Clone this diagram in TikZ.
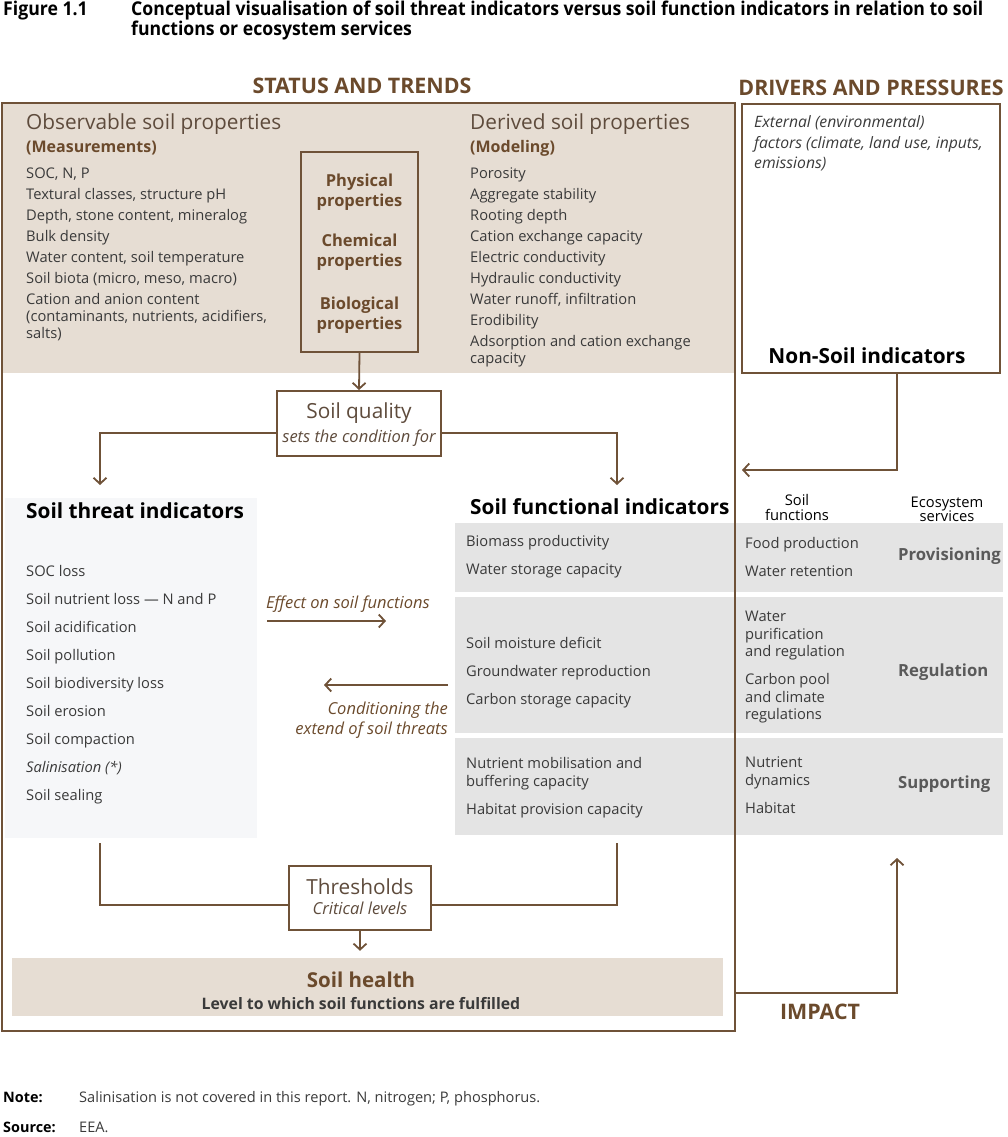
\documentclass[tikz,border=0pt]{standalone}
\usepackage{fontspec}
\setmainfont{Open Sans}
\newfontfamily\condfont{Open Sans}[FakeStretch=0.93]
\usetikzlibrary{arrows.meta,calc}
\definecolor{brn}{HTML}{6F5238}
\definecolor{brtxt}{HTML}{6B4A2C}
\definecolor{beige}{HTML}{E6DDD3}
\definecolor{gry}{HTML}{E4E4E4}
\definecolor{pale}{HTML}{F6F7F9}
\definecolor{txt}{HTML}{3A3A3A}
\definecolor{hd}{HTML}{5E4B3C}
\definecolor{gtxt}{HTML}{5A5A5A}
\newcommand{\fs}[1]{\fontsize{#1}{#1}\selectfont}
\begin{document}
\begin{tikzpicture}[x=1pt,y=-1pt,
  lst/.style={anchor=base west, inner sep=0pt, text=txt, font=\fs{14.7}},
  ctr/.style={anchor=base, inner sep=0pt},
  box/.style={draw=brn, line width=2pt, inner sep=0pt},
  arr/.style={draw=brn, line width=1.8pt, -{Straight Barb[length=6pt,width=13pt,line width=1.8pt]}},
  ln/.style={draw=brn, line width=1.8pt},
  bhead/.style={anchor=base, inner sep=0pt, text=brtxt, font=\bfseries\fs{21.4}},
  ital/.style={inner sep=0pt, font=\itshape\fs{16.5}, text=brtxt},
  ]
\useasboundingbox (0,0) rectangle (1007,1137);
% title
\node[anchor=base west, inner sep=0pt, text=black, font=\condfont\bfseries\fs{19}] (fig) at (3,16) {Figure 1.1};
\node[anchor=base west, inner sep=0pt, text=black, font=\condfont\bfseries\fs{19}] (ttl1) at (131,16) {Conceptual visualisation of soil threat indicators versus soil function indicators in relation to soil};
\node[anchor=base west, inner sep=0pt, text=black, font=\condfont\bfseries\fs{19}] (ttl2) at (131,36) {functions or ecosystem services};
% section headers
\node[bhead] (status) at (362,94) {STATUS AND TRENDS};
\node[bhead] (drivers) at (871,96) {DRIVERS AND PRESSURES};
% background fills
\fill[beige] (2,103) rectangle (735,373);
\fill[pale] (5,498) rectangle (257,838);
\fill[gry] (455,523) rectangle (1003,592);
\fill[gry] (455,597) rectangle (1003,733);
\fill[gry] (455,738) rectangle (1003,835);
% main frame
\draw[brn, line width=2pt] (2,103) rectangle (735,1031);
% observable
\node[anchor=base west, inner sep=0pt, text=hd, font=\fs{20.8}] (obsh) at (26,130) {Observable soil properties};
\node[anchor=base west, inner sep=0pt, text=brtxt, font=\bfseries\fs{16}] (obsm) at (26,152) {(Measurements)};
\foreach \t [count=\i] in {{SOC, N, P},{Textural classes, structure pH},{Depth, stone content, mineralog},{Bulk density},{Water content, soil temperature},{Soil biota (micro, meso, macro)},{Cation and anion content}}
  \node[lst] (obs\i) at (26,157+21*\i) {\t};
\node[lst] (obs8) at (26,321) {(contaminants, nutrients, acidifiers,};
\node[lst] (obs9) at (26,338) {salts)};
% derived
\node[anchor=base west, inner sep=0pt, text=hd, font=\fs{20.8}] (derh) at (470,130) {Derived soil properties};
\node[anchor=base west, inner sep=0pt, text=brtxt, font=\bfseries\fs{16}] (derm) at (470,152) {(Modeling)};
\foreach \t [count=\i] in {Porosity,Aggregate stability,Rooting depth,Cation exchange capacity,Electric conductivity,Hydraulic conductivity,{Water runoff, infiltration},Erodibility,Adsorption and cation exchange}
  \node[lst] (der\i) at (470,157+21*\i) {\t};
\node[lst] (der10) at (470,363) {capacity};
% properties box
\node[box, minimum width=117pt, minimum height=200pt] (phys) at (359.5,252) {};
\foreach \t/\y [count=\i] in {Physical/186,properties/206,Chemical/246,properties/266,Biological/309,properties/329}
  \node[ctr, text=brtxt, font=\bfseries\fs{16.5}] (pp\i) at (359.5,\y) {\t};
% drivers box
\node[box, minimum width=258pt, minimum height=269pt] (drv) at (871,238.5) {};
\foreach \t/\y [count=\i] in {External (environmental)/128,{factors (climate, land use, inputs,}/148,emissions)/168}
  \node[lst, font=\itshape\fs{15.7}, text=txt] (ext\i) at (754,\y) {\t};
\node[ctr, text=black, font=\bfseries\fs{20.8}] (nonsoil) at (867,363) {Non-Soil indicators};
% soil quality
\node[box, minimum width=164pt, minimum height=65pt, fill=white] (sq) at (359,423.5) {};
\node[ctr, text=hd, font=\fs{20.8}] (sqt) at (359,418) {Soil quality};
\node[ctr, ital, text=hd] (sqs) at (359,442) {sets the condition for};
\draw[arr] (phys.south) -- (sq.north);
\coordinate (tin) at (100,485);
\coordinate (fin) at (617,485);
\draw[arr] ($(sq.west)+(0,9.5)$) -| (tin);
\draw[arr] ($(sq.east)+(0,9.5)$) -| (fin);
\coordinate (nsin) at (742,470);
\draw[arr] ($(drv.south)+(26,0)$) |- (nsin);
% threat indicators
\node[anchor=base west, inner sep=0pt, text=black, font=\bfseries\fs{20.8}] (thh) at (26,518) {Soil threat indicators};
\foreach \t [count=\i] in {SOC loss,Soil nutrient loss --- N and P,Soil acidification,Soil pollution,Soil biodiversity loss,Soil erosion,Soil compaction,{\itshape Salinisation (*)},Soil sealing}
  \node[lst] (thr\i) at (26,548+28*\i) {\t};
% middle arrows
\node[ital, anchor=base west] (eff) at (266,608) {Effect on soil functions};
\coordinate (ea) at (267,621);
\coordinate (eb) at (386,621);
\draw[arr] (ea) -- (eb);
\coordinate (ca) at (448,685);
\coordinate (cb) at (324,685);
\draw[arr] (ca) -- (cb);
\node[ital, anchor=base east] (cond1) at (448,714) {Conditioning the};
\node[ital, anchor=base east] (cond2) at (448,734) {extend of soil threats};
% functional indicators
\node[anchor=base west, inner sep=0pt, text=black, font=\bfseries\fs{20.8}] (fuh) at (470,514) {Soil functional indicators};
\node[ctr, text=black, font=\fs{14.7}] (sfh1) at (797,505) {Soil};
\node[ctr, text=black, font=\fs{14.7}] (sfh2) at (797,520) {functions};
\node[ctr, text=black, font=\fs{14.7}] (esh1) at (947,507) {Ecosystem};
\node[ctr, text=black, font=\fs{14.7}] (esh2) at (947,521) {services};
\foreach \t/\y [count=\i] in {Biomass productivity/546,Water storage capacity/574,Soil moisture deficit/648,Groundwater reproduction/676,Carbon storage capacity/704,Nutrient mobilisation and/768,buffering capacity/786,Habitat provision capacity/814}
  \node[lst] (fi\i) at (466,\y) {\t};
\foreach \t/\y [count=\i] in {Food production/548,Water retention/576,Water/621,purification/639,and regulation/656,Carbon pool/684,and climate/702,regulations/719,Nutrient/767,dynamics/785,Habitat/813}
  \node[lst] (sf\i) at (745,\y) {\t};
\node[anchor=base west, inner sep=0pt, text=gtxt, font=\bfseries\fs{16.7}] (prov) at (898,560) {Provisioning};
\node[anchor=base west, inner sep=0pt, text=gtxt, font=\bfseries\fs{16.7}] (reg) at (898,676) {Regulation};
\node[anchor=base west, inner sep=0pt, text=gtxt, font=\bfseries\fs{16.7}] (sup) at (898,788) {Supporting};
% thresholds
\node[box, minimum width=142pt, minimum height=64pt, fill=white] (th) at (360,898) {};
\node[ctr, text=hd, font=\fs{20.8}] (tht) at (360,894) {Thresholds};
\node[ctr, ital, text=hd] (ths) at (360,914) {Critical levels};
\coordinate (tl) at (100,843);
\coordinate (tr) at (617,843);
\draw[ln] (tl) |- ($(th.west)+(0,7)$);
\draw[ln] (tr) |- ($(th.east)+(0,7)$);
% soil health
\node[fill=beige, inner sep=0pt, minimum width=711pt, minimum height=58pt] (sh) at (367.5,987) {};
\draw[arr, shorten >=7pt] (th.south) -- (th.south |- sh.north);
\node[ctr, text=brtxt, font=\bfseries\fs{20.5}] (sht) at (361,987) {Soil health};
\node[ctr, text=txt, font=\bfseries\fs{15.8}] (shs) at (361,1009) {Level to which soil functions are fulfilled};
% impact
\coordinate (ia) at (735,993);
\coordinate (ib) at (897,858);
\draw[arr] (ia) -| (ib);
\node[bhead] (impact) at (820,1019) {IMPACT};
% notes
\node[anchor=base west, inner sep=0pt, text=black, font=\bfseries\fs{14.4}] (note) at (3,1102) {Note:};
\node[anchor=base west, inner sep=0pt, text=txt, font=\fs{14.6}] (notet) at (79,1102) {Salinisation is not covered in this report. N, nitrogen; P, phosphorus.};
\node[anchor=base west, inner sep=0pt, text=black, font=\bfseries\fs{14.4}] (src) at (3,1132) {Source:};
\node[anchor=base west, inner sep=0pt, text=txt, font=\fs{14.6}] (srct) at (79,1132) {EEA.};
\end{tikzpicture}
\end{document}
